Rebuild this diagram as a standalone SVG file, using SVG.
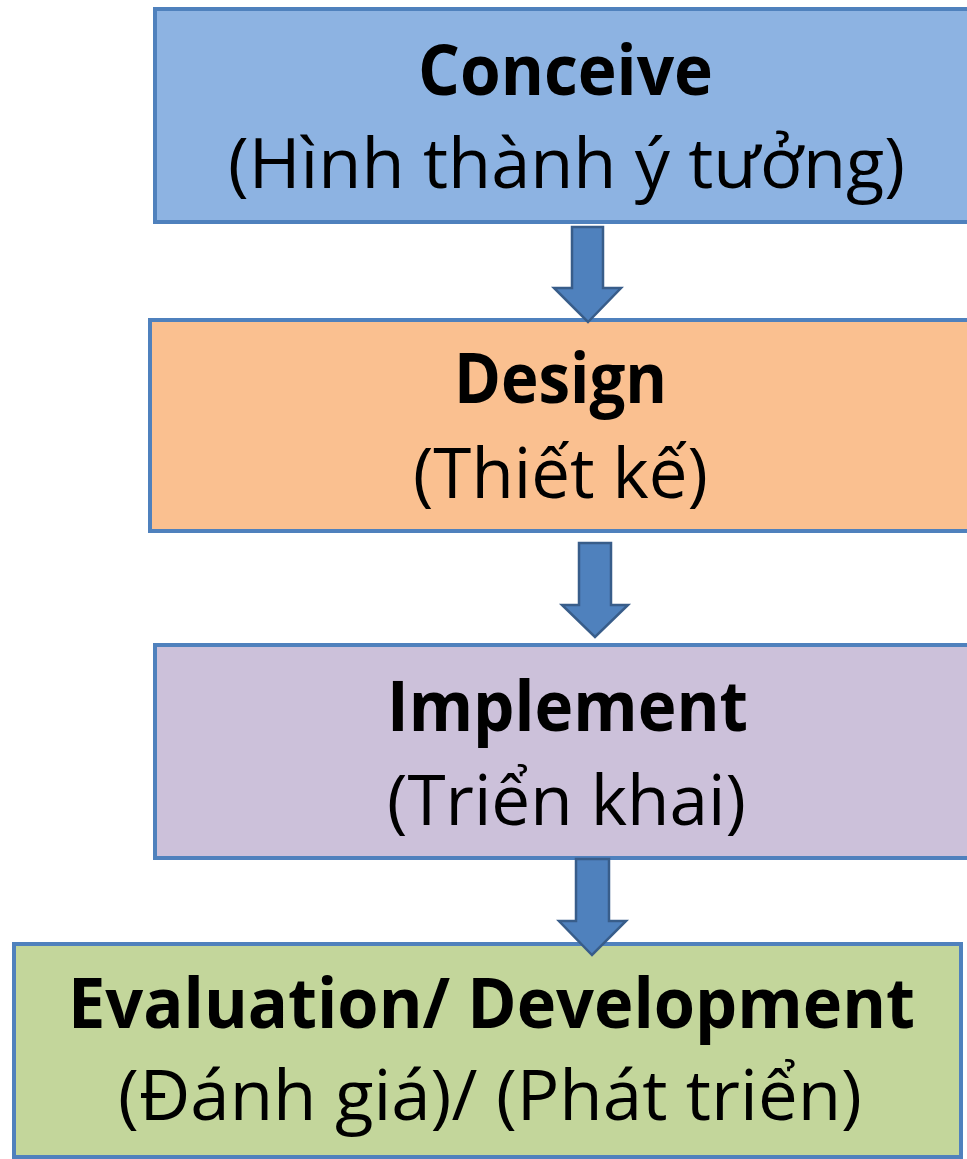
<svg xmlns="http://www.w3.org/2000/svg" width="967" height="1159" viewBox="0 0 967 1159">
<style>
.box{stroke:#4F81BD;stroke-width:4}
.b{font-family:"Open Sans","Noto Sans","Liberation Sans",sans-serif;font-weight:bold;font-size:70px;fill:#000;text-anchor:middle}
.r{font-family:"Open Sans","Noto Sans","Liberation Sans",sans-serif;font-size:70px;fill:#000;text-anchor:middle}
.arr{fill:#4F81BD;stroke:#385D8A;stroke-width:2.5;stroke-linejoin:miter}
</style>
<rect width="967" height="1159" fill="#fff"/>
<g id="conceive">
<rect class="box" x="155" y="9" width="830" height="213" fill="#8DB3E2"/>
<text class="b" x="565.5" y="95" textLength="295" lengthAdjust="spacingAndGlyphs">Conceive</text>
<text class="r" x="566.5" y="188" textLength="677" lengthAdjust="spacingAndGlyphs">(Hình thành ý tưởng)</text>
</g>
<g id="design">
<rect class="box" x="150" y="320" width="835" height="211" fill="#FAC090"/>
<text class="b" x="560.5" y="403" textLength="213" lengthAdjust="spacingAndGlyphs">Design</text>
<text class="r" x="560.5" y="498" textLength="295" lengthAdjust="spacingAndGlyphs">(Thiết kế)</text>
</g>
<g id="implement">
<rect class="box" x="155" y="645" width="830" height="213" fill="#CCC1DA"/>
<text class="b" x="567.5" y="731" textLength="361" lengthAdjust="spacingAndGlyphs">Implement</text>
<text class="r" x="566.5" y="825" textLength="359" lengthAdjust="spacingAndGlyphs">(Triển khai)</text>
</g>
<g id="evaluation">
<rect class="box" x="14" y="944" width="947" height="213" fill="#C3D69B"/>
<text class="b" x="491.5" y="1028" textLength="847" lengthAdjust="spacingAndGlyphs">Evaluation/ Development</text>
<text class="r" x="490" y="1120" textLength="744" lengthAdjust="spacingAndGlyphs">(Đánh giá)/ (Phát triển)</text>
</g>
<g id="connectors">
<polygon class="arr" points="572,227 603,227 603,288 621,288 588,322 554,288 572,288"/>
<polygon class="arr" points="579,543 611,543 611,605 628,605 595,637 562,605 579,605"/>
<polygon class="arr" points="576,859 609,859 609,921 626,921 592,955 559,921 576,921"/>
</g>
</svg>
